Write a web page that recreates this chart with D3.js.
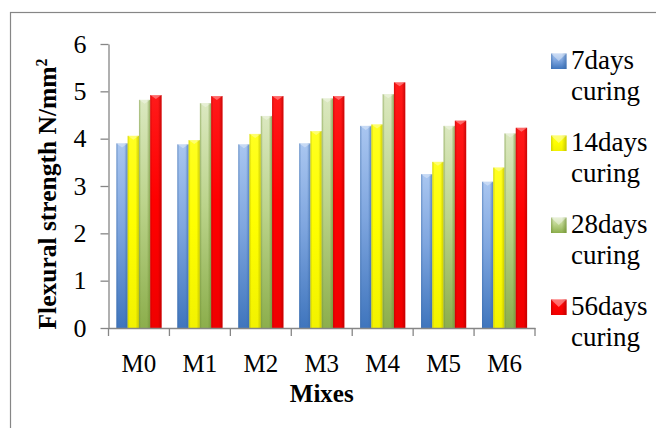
<!DOCTYPE html>
<html><head><meta charset="utf-8">
<script src="https://cdn.jsdelivr.net/npm/d3@7"></script>
<style>html,body{margin:0;padding:0;background:#fff;}svg{display:block;}</style>
</head><body><svg id="c" width="656" height="428"></svg>
<script>
const mixes = ["M0","M1","M2","M3","M4","M5","M6"];
const seriesNames = ["7days curing","14days curing","28days curing","56days curing"];
const days7  = [3.90, 3.88, 3.88, 3.90, 4.27, 3.25, 3.09];
const days14 = [4.06, 3.97, 4.10, 4.16, 4.30, 3.51, 3.39];
const days28 = [4.82, 4.75, 4.48, 4.85, 4.94, 4.27, 4.11];
const days56 = [4.92, 4.90, 4.90, 4.90, 5.19, 4.38, 4.23];
const yTicks = [0,1,2,3,4,5,6];
const seriesValues = [days7, days14, days28, days56];

const svg = d3.select("#c");
const pLeft = 108.5, pRight = 535, pTop = 44, pBottom = 328;
const axisColor = "#868686";
const serif = "Liberation Serif";

// outer chart border
svg.append("rect").attr("x",10.5).attr("y",12.5).attr("width",660).attr("height",430)
  .attr("fill","none").attr("stroke",axisColor).attr("stroke-width",1.2);

const x0 = d3.scaleBand().domain(mixes).range([pLeft,pRight]).paddingInner(0.26).paddingOuter(0.13);
const x1 = d3.scaleBand().domain(d3.range(4)).range([0,x0.bandwidth()]).padding(0);
const y = d3.scaleLinear().domain([0,6]).range([pBottom,pTop]);

// gradients
const defs = svg.append("defs");
const palettes = [
  {top:"#a9c6f0", mid:"#7fa6df", bot:"#3f75bd"},
  {top:"#ffff20", mid:"#ffff00", bot:"#f2f200"},
  {top:"#dbe8c0", mid:"#bcd48c", bot:"#8cae4c"},
  {top:"#ff1a1a", mid:"#ff0000", bot:"#f00000"}
];
const edgeCols = ["#3a6aa8","#b5b500","#6f8f35","#b00000"];
palettes.forEach((p,i)=>{
  const g = defs.append("linearGradient").attr("id","v"+i).attr("x1",0).attr("y1",0).attr("x2",0).attr("y2",1);
  g.append("stop").attr("offset","0%").attr("stop-color",p.top);
  g.append("stop").attr("offset","45%").attr("stop-color",p.mid);
  g.append("stop").attr("offset","100%").attr("stop-color",p.bot);
  const h = defs.append("linearGradient").attr("id","h"+i).attr("x1",0).attr("y1",0).attr("x2",1).attr("y2",0);
  h.append("stop").attr("offset","0%").attr("stop-color",edgeCols[i]).attr("stop-opacity",0.55);
  h.append("stop").attr("offset","18%").attr("stop-color",edgeCols[i]).attr("stop-opacity",0.0);
  h.append("stop").attr("offset","70%").attr("stop-color",edgeCols[i]).attr("stop-opacity",0.0);
  h.append("stop").attr("offset","100%").attr("stop-color",edgeCols[i]).attr("stop-opacity",0.7);
});

// y axis
const yAxis = d3.axisLeft(y).tickValues(yTicks).tickFormat(d3.format("d")).tickSize(8).tickSizeOuter(0).tickPadding(14);
const yg = svg.append("g").attr("transform",`translate(${pLeft},0)`).call(yAxis);
yg.attr("font-family",serif).attr("font-size",26);
yg.select(".domain").attr("stroke",axisColor).attr("stroke-width",1.3);
yg.selectAll(".tick line").attr("stroke",axisColor).attr("stroke-width",1.3);
yg.selectAll(".tick text").attr("fill","#000");

// bars
const groups = svg.append("g").selectAll("g").data(mixes).join("g")
  .attr("transform",d=>`translate(${x0(d)},0)`);
groups.each(function(m,mi){
  const g = d3.select(this);
  seriesValues.forEach((vals,si)=>{
    const bx = x1(si), bw = x1.bandwidth(), by = y(vals[mi]), bh = y(0)-y(vals[mi]);
    g.append("rect").attr("x",bx).attr("y",by).attr("width",bw).attr("height",bh).attr("fill",`url(#v${si})`);
    g.append("rect").attr("x",bx).attr("y",by).attr("width",bw).attr("height",bh).attr("fill",`url(#h${si})`);
    g.append("path").attr("d",`M${bx},${by}L${bx+bw},${by}L${bx+bw/2},${by+4}Z`)
      .attr("fill","#fff").attr("fill-opacity",0.35);
  });
});

// x axis
const xAxis = d3.axisBottom(x0).tickSize(0).tickPadding(26).tickSizeOuter(0);
const xg = svg.append("g").attr("transform",`translate(0,${pBottom})`).call(xAxis);
xg.attr("font-family",serif).attr("font-size",25);
xg.select(".domain").attr("stroke",axisColor).attr("stroke-width",1.3);
xg.selectAll(".tick text").attr("fill","#000");
const bounds = mixes.map(m=>x0(m)-x0.step()*x0.paddingInner()/2).concat([pRight]);
xg.selectAll(".bt").data(bounds).join("line").attr("class","bt")
  .attr("x1",d=>d).attr("x2",d=>d).attr("y1",0).attr("y2",8)
  .attr("stroke",axisColor).attr("stroke-width",1.3);

// axis titles
svg.append("text").attr("x",(pLeft+pRight)/2).attr("y",402).attr("text-anchor","middle")
  .attr("font-family",serif).attr("font-weight","bold").attr("font-size",25).text("Mixes");
const yt = svg.append("text").attr("transform",`translate(56,194) rotate(-90)`).attr("text-anchor","middle")
  .attr("font-family",serif).attr("font-weight","bold").attr("font-size",25.5);
yt.append("tspan").text("Flexural strength N/mm");
yt.append("tspan").attr("font-size",16).attr("dy",-9).text("2");

// legend
const leg = svg.append("g").selectAll("g").data(seriesNames).join("g")
  .attr("transform",(d,i)=>`translate(551,${69+i*82})`);
leg.append("rect").attr("x",0).attr("y",-15.5).attr("width",15.5).attr("height",15.5).attr("fill",(d,i)=>`url(#v${i})`);
leg.append("rect").attr("x",0).attr("y",-15.5).attr("width",15.5).attr("height",15.5).attr("fill",(d,i)=>`url(#h${i})`);
leg.append("path").attr("d","M0,-15.5L15.5,-15.5L7.75,-8Z").attr("fill","#fff").attr("fill-opacity",0.4);
leg.each(function(d){
  const t = d3.select(this).append("text").attr("font-family",serif).attr("font-size",27).attr("fill","#000");
  const parts = d.split(" ");
  t.append("tspan").attr("x",20).attr("y",0).text(parts[0]);
  t.append("tspan").attr("x",20).attr("y",31).text(parts[1]);
});
</script></body></html>
